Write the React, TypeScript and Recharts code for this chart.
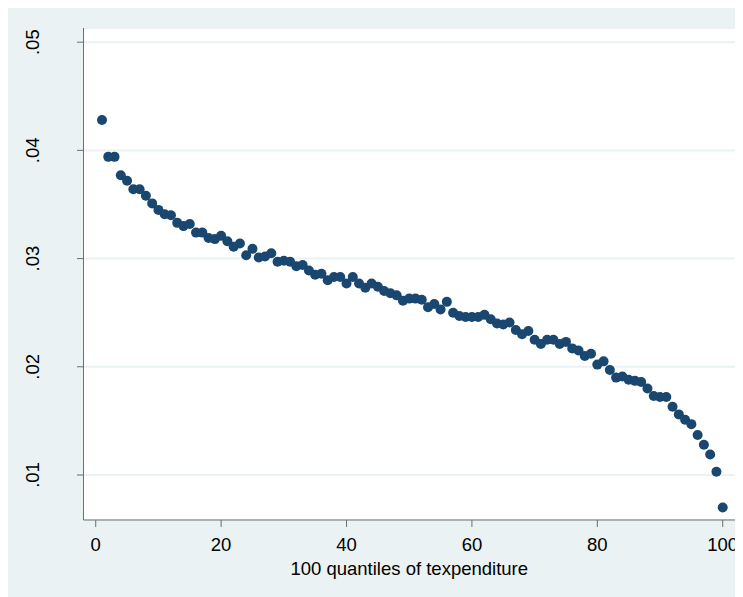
import { CartesianGrid, Scatter, ScatterChart, XAxis, YAxis } from "recharts";

// mean budget share by quantile of total expenditure
const shares = [
  0.0428, 0.0394, 0.0394, 0.0377, 0.0372, 0.0364, 0.0364, 0.0358, 0.0351, 0.0345,
  0.0341, 0.034, 0.0333, 0.033, 0.0332, 0.0324, 0.0324, 0.0319, 0.0318, 0.0321,
  0.0316, 0.0311, 0.0314, 0.0303, 0.0309, 0.0301, 0.0302, 0.0305, 0.0297, 0.0298,
  0.0297, 0.0293, 0.0294, 0.0289, 0.0285, 0.0286, 0.028, 0.0283, 0.0283, 0.0277,
  0.0283, 0.0277, 0.0273, 0.0277, 0.0274, 0.027, 0.0268, 0.0266, 0.0261, 0.0263,
  0.0263, 0.0262, 0.0255, 0.0258, 0.0253, 0.026, 0.025, 0.0247, 0.0246, 0.0246,
  0.0246, 0.0248, 0.0244, 0.024, 0.0239, 0.0241, 0.0234, 0.023, 0.0233, 0.0225,
  0.0221, 0.0225, 0.0225, 0.0221, 0.0223, 0.0217, 0.0215, 0.021, 0.0212, 0.0202,
  0.0205, 0.0197, 0.019, 0.0191, 0.0188, 0.0187, 0.0186, 0.018, 0.0173, 0.0172,
  0.0172, 0.0163, 0.0156, 0.0151, 0.0147, 0.0137, 0.0128, 0.0119, 0.0103, 0.007,
];
const xTicks = [0, 20, 40, 60, 80, 100];
const yTicks = [0.01, 0.02, 0.03, 0.04, 0.05];

const points = shares.map((share, i) => ({ q: i + 1, share }));

const FONT = "'Liberation Sans', Arial, sans-serif";
const AXIS = "#6e6e6e";
const NAVY = "#1a476f";

const fmtY = (v: number) => v.toFixed(2).replace(/^0/, "");

function YTick({ x, y, payload }: any) {
  return (
    <text
      x={x}
      y={y}
      transform={`rotate(-90, ${x}, ${y})`}
      textAnchor="middle"
      fontSize={18.5}
      fontFamily={FONT}
      fill="#000"
    >
      {fmtY(payload.value)}
    </text>
  );
}

function Dot({ cx, cy }: any) {
  return <circle cx={cx} cy={cy} r={5} fill={NAVY} />;
}

export default function App() {
  return (
    <div style={{ width: 735, height: 589, background: "#eaf2f3" }}>
      <ScatterChart
        width={735}
        height={589}
        margin={{ top: 20, right: 8, bottom: 0, left: 0 }}
        style={{ fontFamily: FONT }}
      >
        <CartesianGrid vertical={false} fill="#fff" stroke="#eaf2f3" strokeWidth={2} />
        <XAxis
          type="number"
          dataKey="q"
          domain={[-1.95, 101.96]}
          ticks={xTicks}
          allowDataOverflow
          height={77}
          stroke={AXIS}
          tickSize={7}
          tickMargin={11}
          tick={{ fontSize: 18.5, fill: "#000", fontFamily: FONT }}
          label={{
            value: "100 quantiles of texpenditure",
            position: "insideBottom",
            offset: 22,
            fontSize: 18.5,
            fill: "#000",
            fontFamily: FONT,
          }}
        />
        <YAxis
          type="number"
          dataKey="share"
          domain={[0.00584, 0.05131]}
          ticks={yTicks}
          allowDataOverflow
          width={75.5}
          stroke={AXIS}
          tickSize={6.5}
          tickMargin={38}
          tick={<YTick />}
        />
        <Scatter data={points} shape={<Dot />} isAnimationActive={false} />
      </ScatterChart>
    </div>
  );
}
